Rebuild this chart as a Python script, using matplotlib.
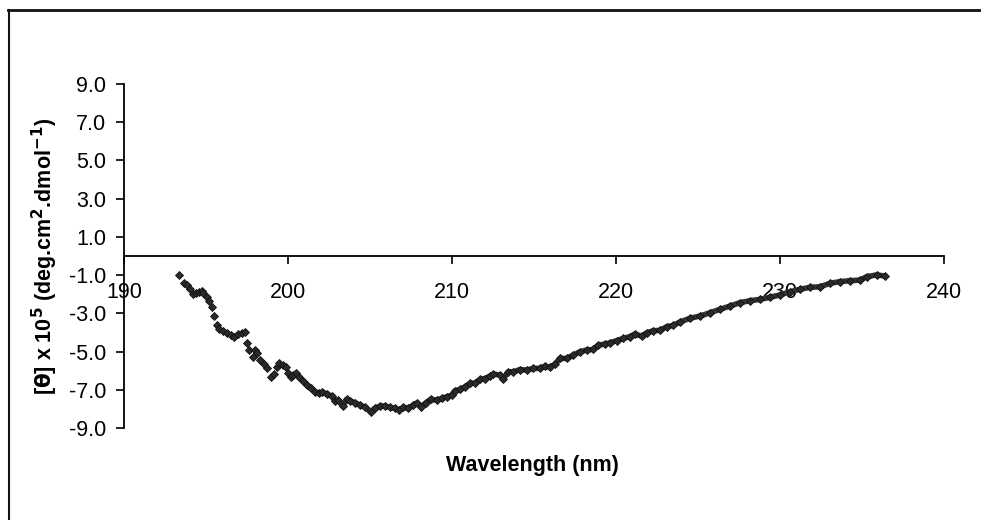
import numpy as np
import matplotlib
matplotlib.use("Agg")
import matplotlib.pyplot as plt
from matplotlib.lines import Line2D

plt.rcParams['font.family'] = ['Liberation Sans', 'DejaVu Sans']
plt.rcParams['axes.unicode_minus'] = False

# CD spectrum (wavelength in nm, [theta] x 10^5)
wavelength = [
    193.35, 193.66, 193.82, 194.02, 194.23, 194.39, 194.59, 194.74, 194.84, 195.04,
    195.20, 195.35, 195.49, 195.65, 195.81, 196.01, 196.26, 196.50, 196.70, 196.97,
    197.17, 197.38, 197.52, 197.64, 197.88, 197.98, 198.12, 198.29, 198.54, 198.70,
    198.94, 199.15, 199.31, 199.47, 199.67, 199.88, 200.02, 200.16, 200.32, 200.49,
    200.69, 200.90, 201.14, 201.38, 201.65, 201.91, 202.10, 202.36, 202.66, 202.87,
    203.07, 203.33, 203.58, 203.78, 204.08, 204.39, 204.70, 205.04, 205.30, 205.61,
    205.91, 206.22, 206.52, 206.78, 207.03, 207.33, 207.64, 207.88, 208.14, 208.41,
    208.70, 209.06, 209.37, 209.67, 209.98, 210.18, 210.49, 210.79, 211.10, 211.40,
    211.71, 212.01, 212.32, 212.52, 212.93, 213.13, 213.43, 213.74, 214.15, 214.55,
    214.96, 215.37, 215.67, 215.98, 216.28, 216.59, 216.99, 217.40, 217.80, 218.21,
    218.62, 218.92, 219.33, 219.63, 220.04, 220.45, 220.85, 221.16, 221.57, 221.87,
    222.27, 222.68, 223.09, 223.50, 223.90, 224.51, 225.12, 225.73, 226.34, 226.95,
    227.56, 228.17, 228.78, 229.39, 230.00, 230.61, 231.22, 231.83, 232.44, 233.05,
    233.66, 234.27, 234.88, 235.29, 235.90, 236.40,
]
theta = [
    -0.99, -1.40, -1.52, -1.75, -2.00, -1.95, -1.87, -1.81, -1.95, -2.17,
    -2.34, -2.69, -3.14, -3.61, -3.82, -3.91, -4.02, -4.14, -4.22, -4.08,
    -4.02, -3.96, -4.57, -4.92, -5.27, -4.92, -5.10, -5.45, -5.65, -5.88,
    -6.35, -6.18, -5.79, -5.59, -5.71, -5.83, -6.14, -6.35, -6.23, -6.11,
    -6.32, -6.53, -6.75, -6.93, -7.10, -7.19, -7.12, -7.23, -7.33, -7.57,
    -7.54, -7.85, -7.50, -7.57, -7.68, -7.80, -7.92, -8.15, -7.97, -7.85,
    -7.85, -7.92, -7.97, -8.06, -7.92, -7.97, -7.80, -7.68, -7.89, -7.68,
    -7.50, -7.54, -7.45, -7.37, -7.28, -7.05, -6.98, -6.84, -6.66, -6.66,
    -6.46, -6.41, -6.28, -6.18, -6.23, -6.41, -6.06, -6.06, -5.94, -5.97,
    -5.88, -5.88, -5.76, -5.83, -5.65, -5.36, -5.36, -5.18, -5.01, -4.92,
    -4.89, -4.66, -4.61, -4.54, -4.43, -4.31, -4.22, -4.08, -4.20, -4.02,
    -3.91, -3.89, -3.70, -3.63, -3.45, -3.26, -3.14, -2.97, -2.79, -2.62,
    -2.44, -2.34, -2.27, -2.16, -2.04, -1.87, -1.74, -1.64, -1.61, -1.43,
    -1.34, -1.29, -1.26, -1.08, -0.99, -1.05,
]
x_ticks = [190, 200, 210, 220, 230, 240]
y_ticks = [-9, -7, -5, -3, -1, 1, 3, 5, 7, 9]

wl = np.array(wavelength)
th = np.array(theta)

fig = plt.figure(figsize=(9.81, 5.2), dpi=100)
ax = fig.add_axes([124/981, 1 - 428/520, 820/981, 344/520])

# dense part of the scan looks like a continuous thick band
dense = wl > 200.5
ax.plot(wl[dense], th[dense], color='#333333', lw=4, solid_capstyle='round',
        solid_joinstyle='round', zorder=2)
ax.plot(wl, th, 'D', color='#2a2a2a', markersize=4, markeredgewidth=0.6,
        markeredgecolor='#111111', zorder=3)

ax.set_xlim(190, 240)
ax.set_ylim(-9, 9)
ax.set_xticks(x_ticks)
ax.set_yticks(y_ticks)
ax.set_yticklabels([f"{v:.1f}" for v in y_ticks])

ax.spines['top'].set_visible(False)
ax.spines['right'].set_visible(False)
ax.spines['bottom'].set_position(('data', 0))
ax.spines['bottom'].set_linewidth(1.3)
ax.spines['left'].set_linewidth(1.3)

ax.tick_params(axis='x', direction='out', length=6, width=1.2, pad=13, labelsize=15.5)
ax.tick_params(axis='y', direction='out', length=6, width=1.2, pad=7, labelsize=15.5)

fig.text(45/981, 1 - 256/520,
         r'[$\mathbf{\theta}$] x 10$^{\mathbf{5}}$ (deg.cm$^{\mathbf{2}}$.dmol$^{\mathbf{-1}}$)',
         rotation=90, ha='center', va='center', fontsize=15.5, fontweight='bold')
fig.text(532/981, 1 - 465/520, 'Wavelength (nm)', ha='center', va='center',
         fontsize=15.5, fontweight='bold')

# frame lines of the scanned page
fig.add_artist(Line2D([8/981, 1.0], [1 - 10/520, 1 - 10/520], color='#111111', lw=2))
fig.add_artist(Line2D([9/981, 9/981], [0, 1 - 10/520], color='#111111', lw=1.5))

fig.savefig('out.png', dpi=100)
